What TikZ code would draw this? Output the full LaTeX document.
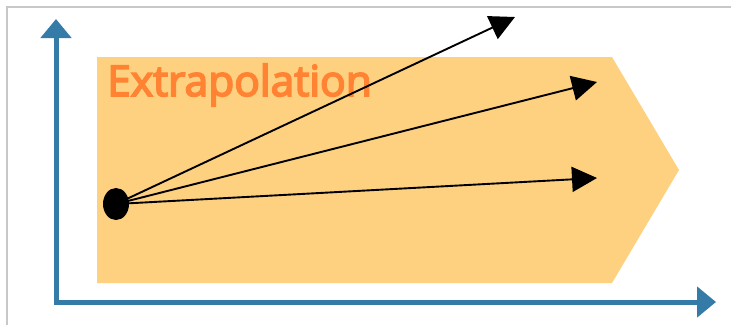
\documentclass[tikz,border=0pt]{standalone}
\usepackage{fontspec}
\setmainfont{Open Sans}
\usetikzlibrary{arrows.meta,shapes.geometric}
\definecolor{bandfill}{HTML}{FDD17F}
\definecolor{bandtext}{HTML}{FF8333}
\definecolor{axisblue}{HTML}{357BA8}
\definecolor{framegray}{HTML}{C8C8C8}
% regular weight, thickened by outlining the glyphs
\newcommand{\heavytext}[1]{\special{pdf:literal direct 2 Tr 1.7 w}#1\special{pdf:literal direct 0 Tr}}
\tikzset{
  axis/.style={draw=axisblue, line width=5pt, -{Triangle[length=19pt,width=30pt]}},
  trend/.style={draw=black, line width=1.9pt, -{Triangle[length=25pt,width=25pt]}},
  frame/.style={draw=framegray, line width=2pt},
}
\begin{document}
\begin{tikzpicture}[x=1pt,y=-1pt]
\useasboundingbox (0,0) rectangle (731,325);
\fill[white] (0,0) rectangle (731,325);
% outer frame
\draw[frame] (6.5,325) -- (6.5,6.5) -- (731,6.5);
% orange band
\fill[bandfill] (97,57) -- (612,57) -- (679,170) -- (612,283) -- (97,283) -- cycle;
\node[anchor=base west, text=bandtext, font=\fontsize{42.5}{42.5}\selectfont, inner sep=0pt] (title) at (107,96) {\heavytext{Extrapolation}};
% axes
\coordinate (origin) at (56,302);
\coordinate (ytop) at (56,19);
\coordinate (xend) at (716,302);
\draw[axis] (56,304.5) -- (ytop);
\draw[axis] (53.5,302) -- (xend);
% starting point and extrapolated trends
\node[draw=none, fill=black, ellipse, minimum width=26pt, minimum height=32pt, inner sep=0pt] (start) at (116,204) {};
\coordinate (t1) at (515,17);
\coordinate (t2) at (597,82);
\coordinate (t3) at (597,178);
\draw[trend] (start.center) -- (t1);
\draw[trend] (start.center) -- (t2);
\draw[trend] (start.center) -- (t3);
\end{tikzpicture}
\end{document}
